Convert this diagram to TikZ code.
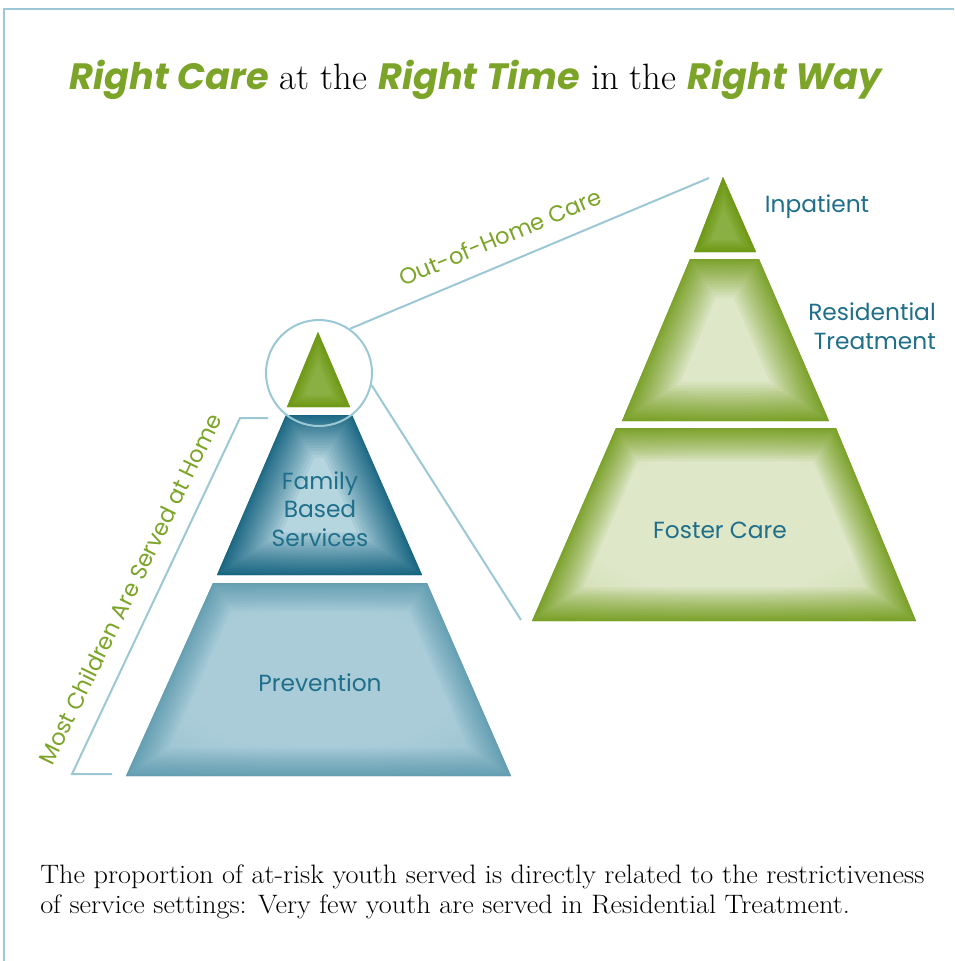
\documentclass[tikz,border=0pt]{standalone}
\usepackage{fontspec}
\usepackage{xcolor}
\usepackage{tikz}
\usetikzlibrary{positioning}
\newfontfamily\gothic{Poppins}
\newfontfamily\notefont[FakeStretch=1.06]{Latin Modern Roman}

\definecolor{leaf}{HTML}{7BA428}
\definecolor{leafdark}{HTML}{6E9A12}
\definecolor{leaflight}{HTML}{DEE7C8}
\definecolor{tiplight}{HTML}{8AAF42}
\definecolor{sea}{HTML}{1F6F8B}
\definecolor{seadark}{HTML}{045878}
\definecolor{seaglow}{HTML}{B5D5DF}
\definecolor{sealight}{HTML}{A9CCD8}
\definecolor{seapale}{HTML}{5E9CB1}
\definecolor{rim}{HTML}{9CC7D5}

% light middle that fades out towards the rim of the box
\makeatletter
\pgfdeclareradialshading[tikz@radial@inner,tikz@radial@outer]{softglow}{\pgfpoint{0bp}{0bp}}%
  {color(0bp)=(tikz@radial@inner); color(18bp)=(tikz@radial@inner); color(50bp)=(tikz@radial@outer)}
\makeatother

% a tier: soft light fill with a dark glow along its inner edge
% #1 path, #2 light colour, #3 dark colour, #4 glow width
\newcommand\tier[4]{%
  \shade[inner color=#2, outer color=#3!40!#2, shading=softglow] #1;
  \begin{scope}
    \clip #1;
    \foreach \k in {1,...,25}
      \draw[#3, opacity=0.075, line width={#4*(\k/25)*(\k/25)}, line join=round] #1;
  \end{scope}}

\newcommand\greenword[1]{{\gothic\bfseries\itshape\color{leaf}#1}}

\begin{document}
\begin{tikzpicture}[x=0.75pt,y=-0.75pt,
    rim line/.style={draw=rim, line width=1.5pt},
    tier label/.style={font=\gothic\fontsize{17.5}{21.4}\selectfont, text=sea, align=center, inner sep=0pt},
    side label/.style={font=\gothic\fontsize{17}{19}\selectfont, text=leaf, inner sep=0pt}]
\useasboundingbox (0,0) rectangle (954,961);

% frame
\draw[rim line] (954,9) -- (4,9) -- (4,961);

% title
\node (title) at (476,80) {\fontsize{27.5}{32}\selectfont
  \greenword{Right Care} at the \greenword{Right Time} in the \greenword{Right Way}};

% home pyramid
\tier{(318,332) -- (350,407) -- (287,407) -- cycle}{tiplight}{leafdark}{18pt}
\tier{(286,415) -- (352,415) -- (422,575) -- (217,575) -- cycle}{seaglow}{seadark}{64pt}
\tier{(213,583) -- (427,583) -- (511,776) -- (126,776) -- cycle}{sealight}{seapale}{42pt}

% out-of-home pyramid
\tier{(723,177) -- (756,252) -- (694,252) -- cycle}{tiplight}{leafdark}{18pt}
\tier{(690,259) -- (759,259) -- (829,421) -- (622,421) -- cycle}{leaflight}{leafdark}{58pt}
\tier{(616,428) -- (836,428) -- (916,621) -- (532,621) -- cycle}{leaflight}{leafdark}{50pt}

% tier labels
\node[tier label] (family) at (320,509) {Family\\Based\\Services};
\node[tier label] (prevention) at (320,683) {Prevention};
\node[tier label] (inpatient) at (817,207) {Inpatient};
\node[tier label, align=right] (residential) at (872,326) {Residential\\Treatment};
\node[tier label] (foster) at (720,530) {Foster Care};

% magnifier and its connectors
\node[circle, rim line, minimum size=79.5pt, inner sep=0pt] (lens) at (319,373) {};
\coordinate (outtop) at (709,178);
\coordinate (outbottom) at (521,620);
\draw[rim line] (lens.55) -- (outtop);
\draw[rim line] (lens.-13) -- (outbottom);
\node[side label, rotate=22.7] (outofhome) at (500,237) {Out-of-Home Care};

% home bracket
\coordinate (homeA) at (268,418);
\coordinate (homeB) at (240,418);
\coordinate (homeC) at (72,774);
\coordinate (homeD) at (112,774);
\draw[rim line] (homeA) -- (homeB) -- (homeC) -- (homeD);
\node[side label, rotate=64] (athome) at (130,589) {Most Children Are Served at Home};

% note
\node[anchor=west, align=left, inner sep=0pt, font=\notefont\fontsize{20}{22.5}\selectfont] (note) at (40,892)
  {The proportion of at-risk youth served is directly related to the restrictiveness\\
   of service settings: Very few youth are served in Residential Treatment.};
\end{tikzpicture}
\end{document}
